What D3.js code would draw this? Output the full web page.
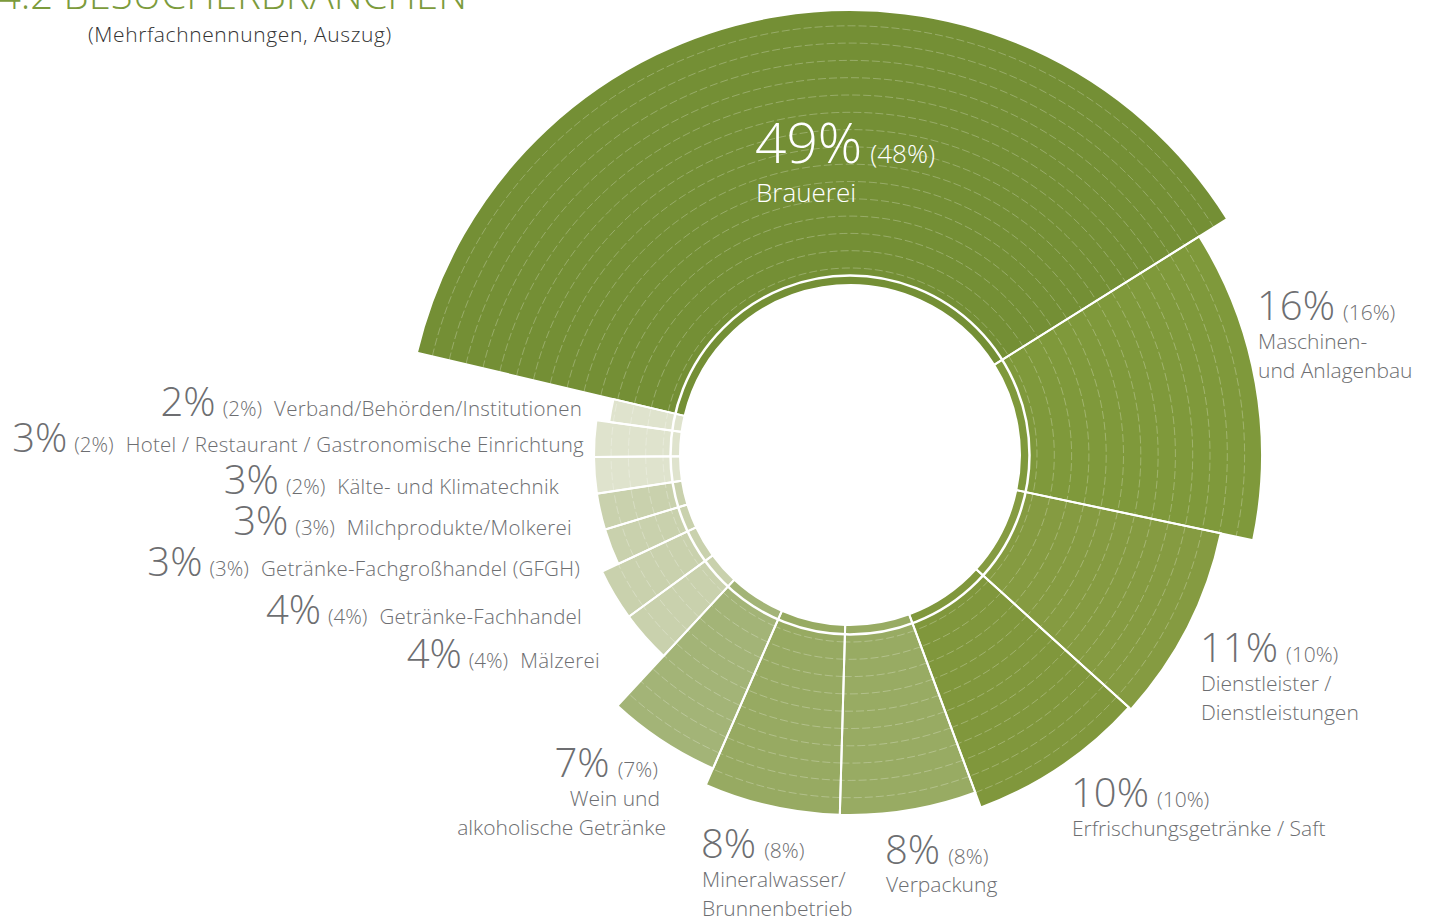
<!DOCTYPE html>
<html lang="de">
<head>
<meta charset="UTF-8">
<script src="https://cdnjs.cloudflare.com/ajax/libs/d3/7.8.5/d3.min.js"></script>
<title>Besucherbranchen</title>
<style>
  body { margin: 0; background: #fff; }
  text { font-family: "Open Sans", "Noto Sans", sans-serif; font-weight: 300; }
</style>
</head>
<body>
<script>

// data (clockwise from top)
let branchen = ["Brauerei", "Maschinen- und Anlagenbau", "Dienstleister / Dienstleistungen",
  "Erfrischungsgetränke / Saft", "Verpackung", "Mineralwasser/ Brunnenbetrieb",
  "Wein und alkoholische Getränke", "Mälzerei", "Getränke-Fachhandel",
  "Getränke-Fachgroßhandel (GFGH)", "Milchprodukte/Molkerei", "Kälte- und Klimatechnik",
  "Hotel / Restaurant / Gastronomische Einrichtung", "Verband/Behörden/Institutionen"];
let werte = [49, 16, 11, 10, 8, 8, 7, 4, 4, 3, 3, 3, 3, 2];
let vorjahr = [48, 16, 10, 10, 8, 8, 7, 4, 4, 3, 3, 2, 2, 2];

let data = branchen.map(function(b, i) { return {name: b, value: werte[i], prev: vorjahr[i]}; });

let width = 1436, height = 920;
let cx = 850, cy = 455;
let inner = 170;

let svg = d3.select("body").append("svg")
    .attr("width", width)
    .attr("height", height);

// title
svg.append("text")
    .attr("x", -2).attr("y", 9)
    .style("font-size", "40px")
    .style("fill", "#7c9b3c")
    .text("4.2  BESUCHERBRANCHEN");
svg.append("text")
    .attr("x", 88).attr("y", 42)
    .style("font-size", "21px")
    .style("letter-spacing", "0.6px")
    .style("fill", "#333")
    .text("(Mehrfachnennungen, Auszug)");

// outer radius per value (hand-fit to the original)
let r = d3.scaleLinear()
    .domain([2, 3, 4, 7, 8, 10, 11, 16, 49])
    .range([243, 256, 274, 342, 360, 376, 379, 412, 445]);

let color = d3.scaleOrdinal()
    .domain(branchen)
    .range(["#748f35", "#7f993b", "#859b41", "#80973c", "#98ab63", "#97aa62", "#a3b477",
            "#c9d1ad", "#c9d1ad", "#c9d1ad", "#c9d1ad", "#dfe3cd", "#dfe3cd", "#dfe3cd"]);

let start = -76.7 * Math.PI / 180;
let pie = d3.pie().sort(null).value(function(d) { return d.value; })
    .startAngle(start).endAngle(start + 2 * Math.PI);
let arcs = pie(data);

let g = svg.append("g").attr("transform", "translate(" + cx + "," + cy + ")");

let arc = d3.arc()
    .innerRadius(inner)
    .outerRadius(function(d) { return r(d.data.value); });

g.selectAll("path.slice")
    .data(arcs)
    .enter().append("path")
    .attr("class", "slice")
    .attr("d", arc)
    .attr("fill", function(d) { return color(d.data.name); });

// concentric dashed rings inside every slice
let ringStep = 17.3;
arcs.forEach(function(d) {
    let outer = r(d.data.value);
    for (let rr = 187; rr < outer - 4; rr += ringStep) {
        let p = d3.path();
        p.arc(0, 0, rr, d.startAngle - Math.PI / 2, d.endAngle - Math.PI / 2);
        g.append("path")
            .attr("d", p.toString())
            .attr("fill", "none")
            .attr("stroke", "rgba(255,255,255,0.32)")
            .attr("stroke-width", 0.8)
            .attr("stroke-dasharray", "8,3");
    }
});

// white dividers between slices
g.selectAll("path.edge")
    .data(arcs)
    .enter().append("path")
    .attr("class", "edge")
    .attr("d", arc)
    .attr("fill", "none")
    .attr("stroke", "#fff")
    .attr("stroke-width", 2);

// white ring separating the thin inner band
g.append("circle")
    .attr("r", 179.5)
    .attr("fill", "none")
    .attr("stroke", "#fff")
    .attr("stroke-width", 2.5);

// labels
let grey = "#6d6e71";
let labelPos = [
    {x: 755, y: 163, anchor: "start", big: 55, small: 26, lh: 39, fill: "#fff"},
    {x: 1257, y: 320, anchor: "start", big: 40, small: 21, lh: 29, lines: ["Maschinen-", "und Anlagenbau"]},
    {x: 1200, y: 662, anchor: "start", big: 40, small: 21, lh: 29, lines: ["Dienstleister /", "Dienstleistungen"]},
    {x: 1071, y: 807, anchor: "start", big: 40, small: 21, lh: 29},
    {x: 885, y: 864, anchor: "start", big: 40, small: 21, lh: 28},
    {x: 701, y: 858, anchor: "start", big: 40, small: 21, lh: 29, lines: ["Mineralwasser/", "Brunnenbetrieb"]},
    {x: 658, y: 777, anchor: "end", big: 40, small: 21, lh: 29, lines: ["Wein und", "alkoholische Getränke"]},
    {x: 600, y: 668, row: true},
    {x: 582, y: 624, row: true},
    {x: 580, y: 576, row: true},
    {x: 572, y: 535, row: true},
    {x: 559, y: 494, row: true},
    {x: 584, y: 452, row: true},
    {x: 582, y: 416, row: true}
];

data.forEach(function(d, i) {
    let lp = labelPos[i];
    if (lp.row) {
        let t = svg.append("text")
            .attr("x", lp.x).attr("y", lp.y)
            .attr("text-anchor", "end")
            .style("fill", grey);
        t.append("tspan").style("font-size", "40px").text(d.value + "%");
        t.append("tspan").style("font-size", "20.5px").attr("dx", 7).text("(" + d.prev + "%)");
        t.append("tspan").style("font-size", "20.5px").attr("dx", 12)
            .style("letter-spacing", "0.25px").text(d.name);
        return;
    }
    let fill = lp.fill || grey;
    let t = svg.append("text")
        .attr("x", lp.x).attr("y", lp.y)
        .attr("text-anchor", lp.anchor)
        .style("fill", fill);
    t.append("tspan").style("font-size", lp.big + "px").text(d.value + "%");
    t.append("tspan").style("font-size", lp.small + "px").attr("dx", 8).text("(" + d.prev + "%)");
    let lines = lp.lines || [d.name];
    lines.forEach(function(line, k) {
        svg.append("text")
            .attr("x", lp.anchor === "end" ? lp.x + (k === 1 ? 8 : 2) : lp.x + 1)
            .attr("y", lp.y + lp.lh * (k + 1))
            .attr("text-anchor", lp.anchor)
            .style("font-size", lp.small + "px")
            .style("fill", fill)
            .text(line);
    });
});

</script>
</body>
</html>
